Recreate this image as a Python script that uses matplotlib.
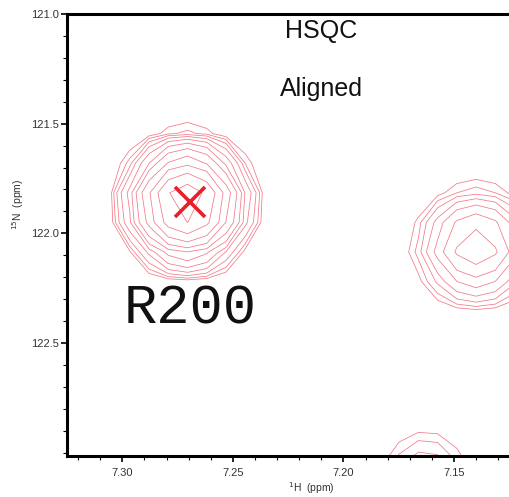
import numpy as np
import matplotlib
matplotlib.use('Agg')
import matplotlib.pyplot as plt
from matplotlib.ticker import MultipleLocator, FormatStrFormatter

plt.rcParams['font.family'] = ['Liberation Sans', 'DejaVu Sans']

# ---------------- data ----------------
peak_names = ['R200', 'peak2', 'peak3']
peak_h = [7.271, 7.140, 7.163]          # 1H shift (ppm)
peak_n = [121.86, 122.06, 123.085]      # 15N shift (ppm)
peak_amp = [37.6, 9.8, 2.6]             # relative intensity
peak_wh = [0.0125, 0.0138, 0.013]       # 1H linewidth (ppm)
peak_wn = [0.125, 0.131, 0.13]          # 15N linewidth (ppm)
contour_levels = [1.0, 1.4, 1.96, 2.74, 3.84, 5.38, 7.53, 10.5, 14.8, 20.7, 28.9, 40.5]
marker_h = [7.2695]
marker_n = [121.858]
label_text = 'R200'
title_lines = ['HSQC', 'Aligned']
x_ticks = [7.30, 7.25, 7.20, 7.15]
y_ticks = [121.0, 121.5, 122.0, 122.5]

# spectrum sampled on a coarse digital grid
h_axis = np.arange(7.0965, 7.36, 0.0087)
n_axis = np.arange(120.735, 123.45, 0.135)
H, N = np.meshgrid(h_axis, n_axis)
Z = np.zeros_like(H)
for h0, n0, a, wh, wn in zip(peak_h, peak_n, peak_amp, peak_wh, peak_wn):
    Z += a * np.exp(-0.5 * ((H - h0) / wh) ** 2 - 0.5 * ((N - n0) / wn) ** 2)

# ---------------- figure ----------------
W, Hpx = 510, 497
fig = plt.figure(figsize=(W / 100, Hpx / 100), dpi=100)
ax = fig.add_axes([67 / W, 1 - 456 / Hpx, 1 - 67 / W + 0.002, (456 - 14) / Hpx])

ax.contour(H, N, Z, levels=contour_levels, colors='#f27886', linewidths=0.55)
ax.plot(marker_h, marker_n, marker='x', color='#e8202a', markersize=22,
        markeredgewidth=2.6, linestyle='none')

ax.set_xlim(7.325, 7.1242)
ax.set_ylim(123.015, 121.0)

ax.set_xticks(x_ticks)
ax.set_yticks(y_ticks)
ax.xaxis.set_major_formatter(FormatStrFormatter('%.2f'))
ax.yaxis.set_major_formatter(FormatStrFormatter('%.1f'))
ax.xaxis.set_minor_locator(MultipleLocator(0.01))
ax.yaxis.set_minor_locator(MultipleLocator(0.1))
ax.tick_params(which='major', direction='out', length=4, width=1.2,
               labelsize=8, labelcolor='#333333', pad=2)
ax.tick_params(which='minor', direction='out', length=3, width=0.8)
ax.tick_params(axis='x', pad=5)

for side in ['left', 'top', 'bottom']:
    ax.spines[side].set_linewidth(2.2)
ax.spines['right'].set_visible(False)

fig.text(311 / W, 1 - 488 / Hpx, r'$^{1}$H  (ppm)', ha='center', va='center',
         fontsize=7.5, color='#333333')
fig.text(18 / W, 1 - 204 / Hpx, r'$^{15}$N  (ppm)', ha='center', va='center',
         rotation=90, fontsize=7.5, color='#333333')

fig.text(321 / W, 1 - 38 / Hpx, title_lines[0], ha='center', va='baseline',
         fontsize=18, color='#111111')
fig.text(321 / W, 1 - 96 / Hpx, title_lines[1], ha='center', va='baseline',
         fontsize=18, color='#111111')
fig.text(190 / W, 1 - 324 / Hpx, label_text, ha='center', va='baseline',
         fontsize=40, family='Liberation Mono', color='#111111')

fig.savefig('out.png', dpi=100)
